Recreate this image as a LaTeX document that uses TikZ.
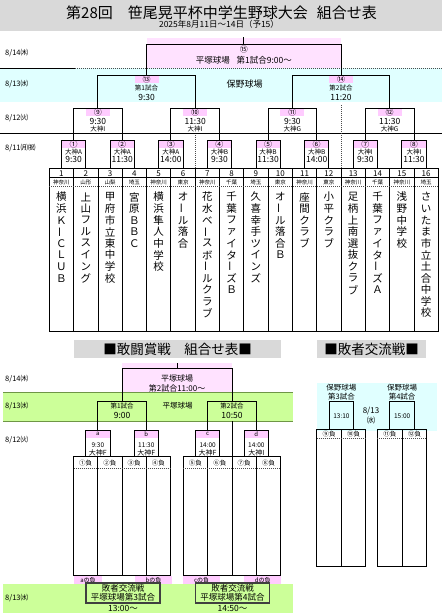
\documentclass[tikz,border=0pt]{standalone}
\usepackage{fontspec}
\setmainfont{Noto Sans CJK JP}
\usepackage{graphicx}
\usetikzlibrary{calc}
\definecolor{titlegray}{RGB}{217,217,217}
\definecolor{pinkbg}{RGB}{255,226,255}
\definecolor{pinklab}{RGB}{255,204,255}
\definecolor{cyanbg}{RGB}{224,255,255}
\definecolor{greenbg}{RGB}{204,255,153}
\definecolor{greenline}{RGB}{110,150,70}
\newcommand\fs[1]{\fontsize{#1}{#1}\selectfont}
\newcommand\vbar{\rotatebox[origin=c]{90}{ー}}
\newcommand\brcoords[4]{%
  \coordinate (#4L) at (#1 |- 0,#3);
  \coordinate (#4R) at (#2 |- 0,#3);
  \coordinate (#4) at ($(#4L)!0.5!(#4R)$);}
\newcommand\brlines[3]{\draw[brk] (#1) -- (#3L) -- (#3R) -- (#2);}
\newcommand\bracketbox[5]{\brcoords{#1}{#2}{#3}{#4}\node[lab] (#4lab) at (#4) {#5};\brlines{#1}{#2}{#4}}
\newcommand\team[2]{%
  \foreach \ch [count=\k from 0] in {#2} {\node[txt,font=\fs{10.5}] (n#1-\k) at ($(c#1)+(0,29+\k*11.6)$) {\ch};}}
\begin{document}
\begin{tikzpicture}[x=1pt,y=-1pt,
  txt/.style={inner sep=0pt},
  brk/.style={draw=black,line width=0.9pt},
  tbl/.style={draw=black,line width=0.8pt},
  lab/.style={fill=pinklab,minimum width=24pt,minimum height=8pt,inner sep=0pt,anchor=north,font=\fs{8}},
  date/.style={anchor=west,inner sep=0pt,font=\fs{7.5}},
  dots/.style={draw=black!70,line width=0.7pt,dash pattern=on 1pt off 1pt},
  lossbox/.style={draw=black!75,line width=1.3pt,fill=greenbg,minimum width=74pt,minimum height=20pt,inner sep=0pt,align=center,font=\fontsize{8.5}{9}\selectfont},
  plab/.style={fill=pinklab,minimum height=8pt,inner sep=0pt,anchor=north west,font=\fs{6}}
]
\useasboundingbox (0,0) rectangle (442,613);

% ---------- title ----------
\fill[titlegray] (0,0) rectangle (442,30.5);
\node[txt,font=\fs{15}] (title) at (221.5,12.5) {第28回\hspace{1em}笹尾晃平杯中学生野球大会\hspace{0.6em}組合せ表};
\node[txt,font=\fs{8.5}] (subtitle) at (219,24.5) {2025年8月11日～14日（予15）};

% ---------- bands ----------
\fill[pinkbg] (146.55,38) rectangle (341.05,68);
\fill[cyanbg] (0,68) rectangle (442,102);
\draw[line width=0.8pt] (0,68) -- (75,68);
\draw[dots] (75,68) -- (442,68);
\draw[line width=0.8pt] (0,133) -- (442,133);

\node[date] (d814) at (5,53.5) {8/14㈭};
\node[date] (d813) at (5,84) {8/13㈬};
\node[date] (d812) at (5,118) {8/12㈫};
\node[date] (d811) at (5,148) {8/11㈪㈷};

% ---------- team table ----------
\foreach \i in {1,...,16} \coordinate (c\i) at ({49.3+(\i-0.5)*24.3125},168);
\draw[tbl] (49.3,168) rectangle (438.3,331);
\foreach \i in {1,...,15} \draw[tbl] ({49.3+\i*24.3125},168) -- ({49.3+\i*24.3125},331);
\draw[line width=0.6pt] (49.3,177.7) -- (438.3,177.7);
\draw[dots] (49.3,186.7) -- (438.3,186.7);
\foreach \i/\p in {1/神奈川,2/山形,3/山梨,4/埼玉,5/神奈川,6/東京,7/神奈川,8/千葉,9/埼玉,10/東京,11/神奈川,12/東京,13/神奈川,14/千葉,15/神奈川,16/埼玉}{
  \node[txt,font=\fs{8}] (num\i) at ($(c\i)+(0,5.2)$) {\i};
  \node[txt,font=\fs{5.5}] (pref\i) at ($(c\i)+(0,14.5)$) {\p};
}
\team{1}{横,浜,Ｋ,\vbar,Ｃ,Ｌ,Ｕ,Ｂ}
\team{2}{上,山,フ,ル,ス,イ,ン,グ}
\team{3}{甲,府,市,立,東,中,学,校}
\team{4}{宮,原,Ｂ,Ｂ,Ｃ}
\team{5}{横,浜,隼,人,中,学,校}
\team{6}{オ,\vbar,ル,落,合}
\team{7}{花,水,ベ,\vbar,ス,ボ,\vbar,ル,ク,ラ,ブ}
\team{8}{千,葉,フ,ァ,イ,タ,\vbar,ズ,Ｂ}
\team{9}{久,喜,幸,手,ツ,イ,ン,ズ}
\team{10}{オ,\vbar,ル,落,合,Ｂ}
\team{11}{座,間,ク,ラ,ブ}
\team{12}{小,平,ク,ラ,ブ}
\team{13}{足,柄,上,南,選,抜,ク,ラ,ブ}
\team{14}{千,葉,フ,ァ,イ,タ,\vbar,ズ,Ａ}
\team{15}{浅,野,中,学,校}
\team{16}{さ,い,た,ま,市,立,土,合,中,学,校}

% ---------- round 1 (8/11) ----------
\foreach \n/\l/\r/\lb/\v/\t in {1/1/2/①/大神A/9:30,2/3/4/②/大神A/11:30,3/5/6/③/大神A/14:00,4/7/8/④/大神B/9:30,5/9/10/⑤/大神B/11:30,6/11/12/⑥/大神B/14:00,7/13/14/⑦/大神I/9:30,8/15/16/⑧/大神I/11:30}{
  \bracketbox{c\l}{c\r}{140}{b\n}{\lb}
  \node[txt,font=\fs{6.5}] (v\n) at ($(b\n)+(0,12)$) {\v};
  \node[txt,font=\fs{8.5}] (tm\n) at ($(b\n)+(0,19)$) {\t};
}
% ---------- round 2 (8/12) ----------
\foreach \n/\l/\r/\lb/\t/\v in {9/1/2/⑨/9:30/大神I,10/3/4/⑩/11:30/大神I,11/5/6/⑪/9:30/大神G,12/7/8/⑫/11:30/大神G}{
  \bracketbox{b\l}{b\r}{108}{b\n}{\lb}
  \node[txt,font=\fs{8.5}] (tm\n) at ($(b\n)+(0,13)$) {\t};
  \node[txt,font=\fs{6.5}] (v\n) at ($(b\n)+(0,21)$) {\v};
}
% ---------- round 3 (8/13) ----------
\foreach \n/\l/\r/\lb/\g/\t in {13/9/10/⑬/第1試合/9:30,14/11/12/⑭/第2試合/11:20}{
  \bracketbox{b\l}{b\r}{75}{b\n}{\lb}
  \node[txt,font=\fs{6.5}] (g\n) at ($(b\n)+(0,13)$) {\g};
  \node[txt,font=\fs{8.5}] (tm\n) at ($(b\n)+(0,22.5)$) {\t};
}
\node[txt,font=\fs{9}] (mata) at (244.5,84) {保野球場};
\draw[dots] ($(c6)!0.5!(c7)$) -- ++(0,-34);
\draw[dots] ($(c12)!0.5!(c13)$) -- ++(0,-64);
% ---------- final (8/14) ----------
\brcoords{b13}{b14}{44}{b15}
\brlines{b13}{b14}{b15}
\draw[brk] (b15) -- ++(0,-7);
\node[txt,font=\fs{8}] (l15) at ($(b15)+(0,5)$) {⑮};
\node[txt,font=\fs{8.5}] (t15) at ($(b15)+(0,16)$) {平塚球場\hspace{0.8em}第1試合9:00～};

% =========== lower part ===========
\fill[titlegray] (74,340) rectangle (281,357.7);
\node[txt,font=\fs{13.5}] (kanto) at (177.5,349) {■敢闘賞戦\hspace{1em}組合せ表■};
\fill[titlegray] (316.7,340) rectangle (426,357.7);
\node[txt,font=\fs{13.5}] (haisha) at (371.5,349) {■敗者交流戦■};

\fill[pinkbg] (122.24,363) rectangle (232,392);
\fill[greenbg] (3,392) rectangle (293,421);
\draw[greenline,line width=0.8pt] (3,392) -- (293,392);
\draw[greenline,line width=0.8pt] (3,421) -- (293,421);
\fill[greenbg] (3,584) rectangle (293,613);

\node[date] (e814) at (5,379) {8/14㈭};
\node[date] (e813) at (5,406.5) {8/13㈬};
\node[date] (e812) at (5,440) {8/12㈫};
\node[date] (e813b) at (5,598) {8/13㈬};

% tables
\foreach \i in {1,...,4} \coordinate (d\i) at ({73.6+(\i-0.5)*24.2375},456.7);
\foreach \i in {1,...,4} \coordinate (e\i) at ({183.3+(\i-0.5)*24.35},456.7);
\draw[tbl] (73.6,456.7) rectangle (170.55,575);
\foreach \i in {1,2,3} \draw[tbl] ({73.6+\i*24.2375},456.7) -- ({73.6+\i*24.2375},575);
\draw[tbl] (183.3,456.7) rectangle (280.7,575);
\foreach \i in {1,2,3} \draw[tbl] ({183.3+\i*24.35},456.7) -- ({183.3+\i*24.35},575);
\draw[dots] (73.6,468) -- (170.55,468);
\draw[dots] (183.3,468) -- (280.7,468);
\foreach \i/\h in {1/①負,2/②負,3/③負,4/④負}{\node[txt,font=\fs{6.5}] (hd\i) at ($(d\i)+(0,6.5)$) {\h};}
\foreach \i/\h in {1/⑤負,2/⑥負,3/⑦負,4/⑧負}{\node[txt,font=\fs{6.5}] (he\i) at ($(e\i)+(0,6.5)$) {\h};}

% a-d (8/12)
\foreach \n/\l/\r/\lb/\t/\v in {ka/d1/d2/a/9:30/大神F,kb/d3/d4/b/11:30/大神F,kc/e1/e2/c/14:00/大神F,kd/e3/e4/d/14:00/大神I}{
  \bracketbox{\l}{\r}{430}{\n}{\fs{6}\lb}
  \node[txt,font=\fs{6.5}] (tm\n) at ($(\n)+(0,15)$) {\t};
  \node[txt,font=\fs{7}] (v\n) at ($(\n)+(0,22.7)$) {\v};
}
% 8/13 semis
\brcoords{ka}{kb}{401}{k1}\brlines{ka}{kb}{k1}
\brcoords{kc}{kd}{401}{k2}\brlines{kc}{kd}{k2}
\node[txt,font=\fs{6.5}] (k1g) at ($(k1)+(0,5)$) {第1試合};
\node[txt,font=\fs{8.5}] (k1t) at ($(k1)+(0,14)$) {9:00};
\node[txt,font=\fs{6.5}] (k2g) at ($(k2)+(0,5)$) {第2試合};
\node[txt,font=\fs{8.5}] (k2t) at ($(k2)+(0,14)$) {10:50};
\node[txt,font=\fs{7.5}] (hira) at (177.5,406) {平塚球場};
\draw[brk] (k2 |- 0,421) -- (k2 |- 0,456.7);
% final
\brcoords{k1}{k2}{368}{kf}\brlines{k1}{k2}{kf}
\draw[brk] (kf) -- ++(0,-5);
\node[txt,font=\fs{8}] (kf1) at ($(kf)+(0,10)$) {平塚球場};
\node[txt,font=\fs{8}] (kf2) at ($(kf)+(0,20)$) {第2試合11:00～};

% losers labels
\node[plab,minimum width=27.7pt] (la) at (74,576) {aの負};
\node[plab,minimum width=36.7pt] (lb) at (135,576) {bの負};
\node[plab,minimum width=37pt] (lc) at (183,576) {cの負};
\node[plab,minimum width=37pt] (ld) at (244,576) {dの負};
\node[lossbox] (x3) at (123,593) {敗者交流戦\\平塚球場第3試合};
\node[lossbox] (x4) at (232.5,593) {敗者交流戦\\平塚球場第4試合};
\node[txt,font=\fs{8.5}] (x3t) at (123,608) {13:00～};
\node[txt,font=\fs{8.5}] (x4t) at (232.5,608) {14:50～};

% ---------- 敗者交流戦 right ----------
\fill[cyanbg] (316.7,383) rectangle (436.7,431);
\foreach \i/\x in {1/329.2,2/353.7,3/389.8,4/414.5} \coordinate (f\i) at (\x,429.5);
\draw[tbl] (316.7,429.5) rectangle (365.7,566);
\draw[tbl] (341.7,429.5) -- (341.7,566);
\draw[tbl] (377.3,429.5) rectangle (426.7,566);
\draw[tbl] (402.1,429.5) -- (402.1,566);
\draw[dots] (316.7,438.5) -- (365.7,438.5);
\draw[dots] (377.3,438.5) -- (426.7,438.5);
\foreach \i/\h in {1/⑨負,2/⑩負,3/⑪負,4/⑫負}{\node[txt,font=\fs{6.5}] (hf\i) at ($(f\i)+(0,5)$) {\h};}
\brcoords{f1}{f2}{401}{g3}\brlines{f1}{f2}{g3}
\brcoords{f3}{f4}{401}{g4}\brlines{f3}{f4}{g4}
\node[txt,font=\fs{7.5}] (g3a) at ($(g3)+(0,-13)$) {保野球場};
\node[txt,font=\fs{7.5}] (g3b) at ($(g3)+(0,-4.5)$) {第3試合};
\node[txt,font=\fs{6.5}] (g3t) at ($(g3)+(0,15)$) {13:10};
\node[txt,font=\fs{7.5}] (g4a) at ($(g4)+(0,-13)$) {保野球場};
\node[txt,font=\fs{7.5}] (g4b) at ($(g4)+(0,-4.5)$) {第4試合};
\node[txt,font=\fs{6.5}] (g4t) at ($(g4)+(0,15)$) {15:00};
\node[txt,font=\fs{8}] (g813) at (371,411) {8/13};
\node[txt,font=\fs{8}] (g813w) at (371,420.5) {㈬};
\end{tikzpicture}
\end{document}
